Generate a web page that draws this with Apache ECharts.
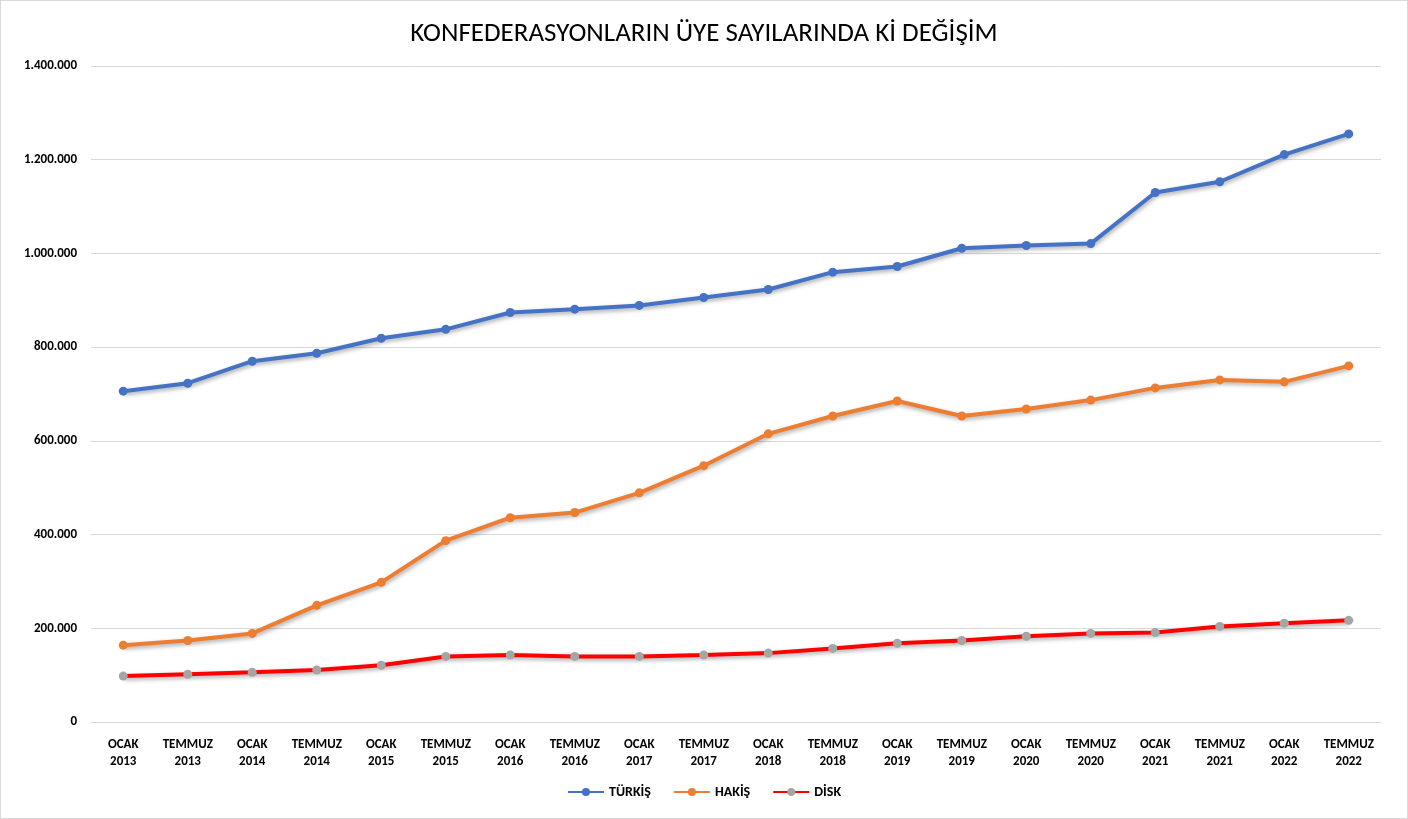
<!DOCTYPE html>
<html>
<head>
<meta charset="utf-8">
<script src="https://cdn.jsdelivr.net/npm/echarts@6/dist/echarts.min.js"></script>
<style>
  html, body { margin: 0; padding: 0; background: #fff; }
  #chart { width: 1408px; height: 819px; box-sizing: border-box; border: 1px solid #d9d9d9; }
</style>
</head>
<body>
<div id="chart"></div>
<script>
// dönemler
const periods = [
  'OCAK\n2013', 'TEMMUZ\n2013', 'OCAK\n2014', 'TEMMUZ\n2014', 'OCAK\n2015',
  'TEMMUZ\n2015', 'OCAK\n2016', 'TEMMUZ\n2016', 'OCAK\n2017', 'TEMMUZ\n2017',
  'OCAK\n2018', 'TEMMUZ\n2018', 'OCAK\n2019', 'TEMMUZ\n2019', 'OCAK\n2020',
  'TEMMUZ\n2020', 'OCAK\n2021', 'TEMMUZ\n2021', 'OCAK\n2022', 'TEMMUZ\n2022'
]
// üye sayıları (grafikten okunan yaklaşık değerler)
const turkis = [706000, 723000, 770000, 787000, 819000, 838000, 874000, 881000, 889000, 906000,
  923000, 960000, 972000, 1011000, 1017000, 1021000, 1130000, 1153000, 1211000, 1255000]
const hakis = [164000, 174000, 189000, 249000, 298000, 387000, 436000, 447000, 489000, 547000,
  615000, 653000, 685000, 653000, 668000, 687000, 713000, 730000, 726000, 760000]
const disk = [98000, 102000, 106000, 111000, 121000, 140000, 143000, 140000, 140000, 143000,
  147000, 157000, 168000, 174000, 183000, 189000, 191000, 204000, 211000, 217000]
const yTicks = { min: 0, max: 1400000, interval: 200000 }

const font = 'Calibri, Carlito, Lato, "Open Sans", sans-serif'

// binlik ayırıcı nokta
const fmt = v => String(v).replace(/\B(?=(\d{3})+(?!\d))/g, '.')

function lineSeries (name, data, lineColor, dotColor) {
  return {
    name: name,
    type: 'line',
    data: data,
    symbol: 'circle',
    symbolSize: 9,
    itemStyle: { color: dotColor },
    lineStyle: {
      color: lineColor,
      width: 4,
      shadowColor: 'rgba(0,0,0,0.35)',
      shadowBlur: 4,
      shadowOffsetX: 1,
      shadowOffsetY: 2
    },
    emphasis: { disabled: true }
  }
}

const chartInstance = echarts.init(document.getElementById('chart'))
const option = {
  animation: false,
  title: {
    text: 'KONFEDERASYONLARIN ÜYE SAYILARINDA Kİ DEĞİŞİM',
    left: 'center',
    top: 15,
    textStyle: { fontFamily: font, fontSize: 27, fontWeight: 'normal', color: '#000' }
  },
  legend: {
    bottom: 14,
    left: 'center',
    itemWidth: 36,
    itemHeight: 10,
    itemGap: 22,
    textStyle: { fontFamily: font, fontSize: 14, fontWeight: 'bold', color: '#000' },
    data: ['TÜRKİŞ', 'HAKİŞ', 'DİSK']
  },
  grid: { left: 90, right: 26, top: 65, bottom: 96 },
  xAxis: {
    type: 'category',
    data: periods,
    boundaryGap: true,
    axisLine: { lineStyle: { color: '#d9d9d9', width: 1 } },
    axisTick: { show: false },
    axisLabel: {
      interval: 0,
      margin: 14,
      lineHeight: 17,
      fontFamily: font,
      fontSize: 13,
      fontWeight: 'bold',
      color: '#000'
    }
  },
  yAxis: {
    type: 'value',
    min: yTicks.min,
    max: yTicks.max,
    interval: yTicks.interval,
    axisLine: { show: false },
    axisTick: { show: false },
    splitLine: { lineStyle: { color: '#d9d9d9', width: 1 } },
    axisLabel: {
      margin: 14,
      fontFamily: font,
      fontSize: 13,
      fontWeight: 'bold',
      color: '#000',
      formatter: fmt
    }
  },
  series: [
    lineSeries('TÜRKİŞ', turkis, '#4472C4', '#4472C4'),
    lineSeries('HAKİŞ', hakis, '#ED7D31', '#ED7D31'),
    lineSeries('DİSK', disk, '#FF0000', '#A5A5A5')
  ]
}
chartInstance.setOption(option)
</script>
</body>
</html>
